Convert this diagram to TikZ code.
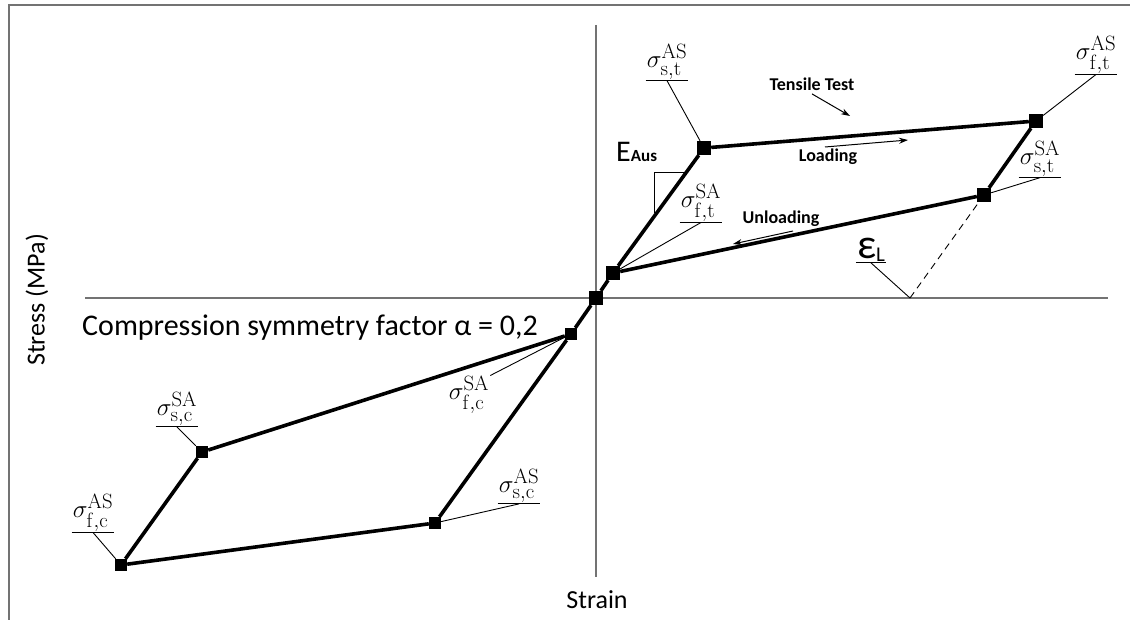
\documentclass[tikz,border=0pt]{standalone}
\usepackage[no-math]{fontspec}
\setmainfont{Carlito}
\usepackage{amsmath}
\usetikzlibrary{arrows.meta}

\begin{document}
\begin{tikzpicture}[x=1pt,y=-1pt,
    sqt/.style={fill=black,inner sep=0pt,minimum size=14pt},
    sqc/.style={fill=black,inner sep=0pt,minimum size=12pt},
    loop/.style={line width=3.6pt,line join=round},
    leader/.style={line width=0.9pt},
    sig/.style={inner sep=1pt,font=\fontsize{30}{32}\selectfont},
    tag/.style={font=\fontsize{18}{20}\selectfont\bfseries},
    arr/.style={-{Stealth[length=9pt,width=6pt]},line width=1pt},
    frame/.style={draw=black!55,line width=1.5pt}]
  \useasboundingbox (0,0) rectangle (1130,620);
  % frame and axes
  \draw[frame] (9,620) -- (9,5) -- (1130,5);
  \draw[frame] (85,298) -- (1108,298);
  \draw[frame] (596,25) -- (596,577);
  \node[font=\fontsize{26}{28}\selectfont] (xlab) at (597,600) {Strain};
  \node[font=\fontsize{26}{28}\selectfont,rotate=90] (ylab) at (37,300) {Stress (MPa)};
  % transformation points
  \node[sqt] (o) at (596,298) {};
  \node[sqt] (fts) at (613,273) {};
  \node[sqt] (sta) at (704,148) {};
  \node[sqt] (fta) at (1036,121) {};
  \node[sqt] (sts) at (984,195) {};
  \node[sqc] (fcs) at (571,334) {};
  \node[sqc] (scs) at (202,452) {};
  \node[sqc] (fca) at (121,565) {};
  \node[sqc] (sca) at (435,523) {};
  \draw[loop] (fcs) -- (o) -- (fts) -- (sta) -- (fta) -- (sts) -- (fts);
  \draw[loop] (fcs) -- (scs) -- (fca) -- (sca) -- (fcs);
  % tension labels
  \node[sig] (lsta) at (667,62) {$\sigma^{\mathrm{AS}}_{\mathrm{s,t}}$};
  \draw[leader] (lsta.south west) -- (lsta.south east);
  \draw[leader] (lsta.south) -- (sta);
  \node[sig] (lfta) at (1096,55) {$\sigma^{\mathrm{AS}}_{\mathrm{f,t}}$};
  \draw[leader] (lfta.south west) -- (lfta.south east);
  \draw[leader] (lfta.south) -- (fta);
  \node[sig] (lsts) at (1040,159) {$\sigma^{\mathrm{SA}}_{\mathrm{s,t}}$};
  \draw[leader] (lsts.south west) -- (lsts.south east);
  \draw[leader] (lsts.south) -- (sts);
  \node[sig] (lfts) at (701,203) {$\sigma^{\mathrm{SA}}_{\mathrm{f,t}}$};
  \draw[leader] (lfts.south west) -- (lfts.south east);
  \draw[leader] (lfts.south) -- (fts);
  % compression labels
  \node[sig] (lfcs) at (469,395) {$\sigma^{\mathrm{SA}}_{\mathrm{f,c}}$};
  \draw[leader] (lfcs.north east) -- (fcs);
  \node[sig] (lsca) at (519,486) {$\sigma^{\mathrm{AS}}_{\mathrm{s,c}}$};
  \draw[leader] (lsca.south west) -- (lsca.south east);
  \draw[leader] (lsca.south) -- (sca);
  \node[sig] (lscs) at (177,409) {$\sigma^{\mathrm{SA}}_{\mathrm{s,c}}$};
  \draw[leader] (lscs.south west) -- (lscs.south east);
  \draw[leader] (lscs.south) -- (scs);
  \node[sig] (lfca) at (93,513) {$\sigma^{\mathrm{AS}}_{\mathrm{f,c}}$};
  \draw[leader] (lfca.south west) -- (lfca.south east);
  \draw[leader] (lfca.south) -- (fca);
  % modulus and strain
  \node[anchor=base west,inner sep=0pt,font=\fontsize{30}{30}\selectfont] (eaus) at (616,162)
    {E{\fontsize{17}{18}\selectfont\bfseries Aus}};
  \coordinate (ea) at (654,213);
  \coordinate (eb) at (654,172);
  \coordinate (ec) at (686,172);
  \draw[leader] (ea) -- (eb) -- (ec);
  \node[inner sep=1pt] (leps) at (871,250)
    {{\fontsize{42}{42}\selectfont ε}{\fontsize{21}{21}\selectfont\raisebox{-3pt}{L}}};
  \coordinate (el) at (910,298);
  \draw[leader] (leps.south west) -- (leps.south east);
  \draw[leader] (leps.south) -- (el);
  \draw[leader,dash pattern=on 7pt off 5pt] (el) -- (sts);
  % test annotations
  \node[tag] (tt) at (812,84) {Tensile Test};
  \coordinate (tte) at (850,116);
  \draw[arr] (tt.south) -- (tte);
  \node[tag] (ld) at (828,157) {Loading};
  \coordinate (lda) at (825,147);
  \coordinate (ldb) at (908,140);
  \draw[arr] (lda) -- (ldb);
  \node[tag] (uld) at (781,219) {Unloading};
  \coordinate (ula) at (793,231);
  \coordinate (ulb) at (733,244);
  \draw[arr] (ula) -- (ulb);
  \node[anchor=base west,inner sep=0pt,font=\fontsize{30}{32}\selectfont] (csf) at (82,336)
    {Compression symmetry factor α = 0,2};
\end{tikzpicture}
\end{document}
